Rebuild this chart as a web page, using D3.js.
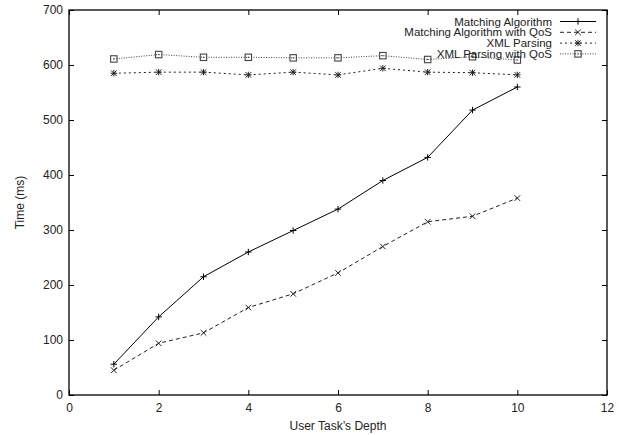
<!DOCTYPE html>
<html>
<head>
<meta charset="utf-8">
<script src="https://cdn.jsdelivr.net/npm/d3@7"></script>
<style>
body { margin: 0; background: #fff; }
text { font-family: "Liberation Sans", Arial, sans-serif; font-size: 12px; fill: #222; }
</style>
</head>
<body>
<div id="chart"></div>
<script>
var depths = [1, 2, 3, 4, 5, 6, 7, 8, 9, 10];
var matching = [56, 142, 215, 260, 299, 338, 390, 432, 518, 560];
var matchingQoS = [45, 94, 113, 159, 184, 222, 270, 315, 325, 358];
var xmlParsing = [585, 587, 587, 582, 587, 582, 594, 587, 586, 582];
var xmlParsingQoS = [611, 619, 614, 614, 613, 613, 617, 610, 615, 609];
var xTicks = [0, 2, 4, 6, 8, 10, 12];
var yTicks = [0, 100, 200, 300, 400, 500, 600, 700];

var series = [
	{label: "Matching Algorithm", values: matching, dash: null, color: "#000", marker: "plus"},
	{label: "Matching Algorithm with QoS", values: matchingQoS, dash: "4,3", color: "#222", marker: "cross"},
	{label: "XML Parsing", values: xmlParsing, dash: "2,3", color: "#222", marker: "star"},
	{label: "XML Parsing with QoS", values: xmlParsingQoS, dash: "1,1.5", color: "#444", marker: "box"}
];

var W = 631, H = 435;
var margin = {top: 10, right: 24, bottom: 40, left: 69};

var svg = d3.select("#chart").append("svg")
	.attr("width", W)
	.attr("height", H);

var x = d3.scaleLinear().domain([0, 12]).range([margin.left, W - margin.right]);
var y = d3.scaleLinear().domain([0, 700]).range([H - margin.bottom, margin.top]);

// axes, gnuplot style: ticks inward on all four sides
svg.append("g")
	.attr("transform", "translate(0," + y(0) + ")")
	.call(d3.axisBottom(x).tickValues(xTicks).tickSize(-5).tickPadding(8))
	.call(function(g){ g.select(".domain").remove(); });
svg.append("g")
	.attr("transform", "translate(0," + y(700) + ")")
	.call(d3.axisTop(x).tickValues(xTicks).tickSize(-5).tickFormat(""))
	.call(function(g){ g.select(".domain").remove(); });
svg.append("g")
	.attr("transform", "translate(" + x(0) + ",0)")
	.call(d3.axisLeft(y).tickValues(yTicks).tickSize(-5).tickPadding(6))
	.call(function(g){ g.select(".domain").remove(); });
svg.append("g")
	.attr("transform", "translate(" + x(12) + ",0)")
	.call(d3.axisRight(y).tickValues(yTicks).tickSize(-5).tickFormat(""))
	.call(function(g){ g.select(".domain").remove(); });

svg.selectAll(".tick line").attr("stroke", "#000");
svg.selectAll(".tick text")
	.style("font-size", "12px")
	.style("font-family", "'Liberation Sans', Arial, sans-serif")
	.attr("fill", "#222");

svg.append("rect")
	.attr("x", x(0)).attr("y", y(700))
	.attr("width", x(12) - x(0)).attr("height", y(0) - y(700))
	.attr("fill", "none").attr("stroke", "#000").attr("stroke-width", 1.3);

svg.append("text")
	.attr("x", (x(0) + x(12)) / 2).attr("y", H - 5)
	.attr("text-anchor", "middle")
	.text("User Task\u2019s Depth");
svg.append("text")
	.attr("transform", "translate(24," + (y(0) + y(700)) / 2 + ") rotate(-90)")
	.attr("text-anchor", "middle")
	.text("Time (ms)");

function drawMarker(g, type, cx, cy, color) {
	var s = 3.2;
	if (type === "plus" || type === "star") {
		g.append("line").attr("x1", cx - s).attr("x2", cx + s).attr("y1", cy).attr("y2", cy).attr("stroke", color);
		g.append("line").attr("x1", cx).attr("x2", cx).attr("y1", cy - s).attr("y2", cy + s).attr("stroke", color);
	}
	if (type === "cross" || type === "star") {
		var c = 2.8;
		g.append("line").attr("x1", cx - c).attr("x2", cx + c).attr("y1", cy - c).attr("y2", cy + c).attr("stroke", color);
		g.append("line").attr("x1", cx - c).attr("x2", cx + c).attr("y1", cy + c).attr("y2", cy - c).attr("stroke", color);
	}
	if (type === "box") {
		g.append("rect").attr("x", cx - 3.2).attr("y", cy - 3.2).attr("width", 6.4).attr("height", 6.4)
			.attr("fill", "none").attr("stroke", color).attr("stroke-width", 1.1);
		g.append("rect").attr("x", cx - 0.6).attr("y", cy - 0.6).attr("width", 1.2).attr("height", 1.2).attr("fill", color);
	}
}

var line = d3.line()
	.x(function(d){ return x(d[0]); })
	.y(function(d){ return y(d[1]); });

series.forEach(function(s){
	var pts = depths.map(function(d, i){ return [d, s.values[i]]; });
	svg.append("path")
		.datum(pts)
		.attr("d", line)
		.attr("fill", "none")
		.attr("stroke", s.color)
		.attr("stroke-width", 1)
		.attr("stroke-dasharray", s.dash);
	var g = svg.append("g");
	pts.forEach(function(p){ drawMarker(g, s.marker, x(p[0]), y(p[1]), s.color); });
});

// legend (tight rows as in the original gnuplot key)
var legend = svg.append("g");
series.forEach(function(s, i){
	var ly = 21.5 + i * 10.8;
	legend.append("text")
		.attr("x", 552).attr("y", ly + 4)
		.attr("text-anchor", "end")
		.style("font-size", "11.5px")
		.text(s.label);
	legend.append("line")
		.attr("x1", 560).attr("x2", 596).attr("y1", ly).attr("y2", ly)
		.attr("stroke", s.color).attr("stroke-dasharray", s.dash);
	drawMarker(legend, s.marker, 578, ly, s.color);
});
</script>
</body>
</html>
